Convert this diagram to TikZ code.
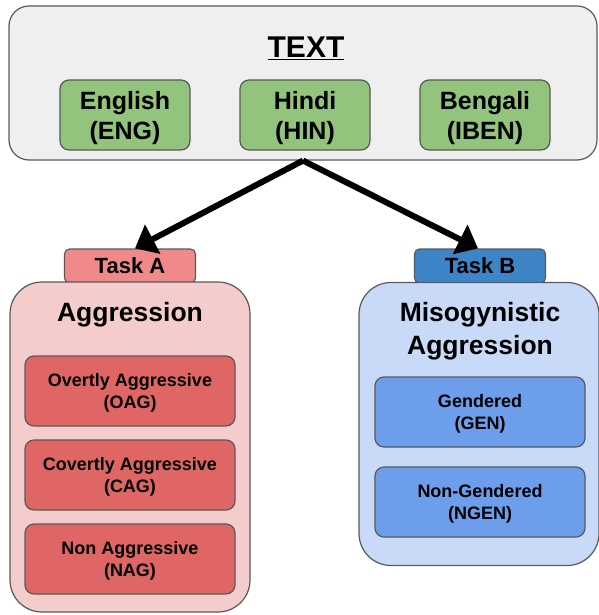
\documentclass[tikz,border=0pt]{standalone}
\usepackage{fontspec}
\setmainfont{Liberation Sans}
\usetikzlibrary{arrows.meta}

\definecolor{panelgray}{HTML}{EFEFEF}
\definecolor{langgreen}{HTML}{93C47D}
\definecolor{tabred}{HTML}{F08A8A}
\definecolor{boxred}{HTML}{F4CCCC}
\definecolor{itemred}{HTML}{E06666}
\definecolor{tabblue}{HTML}{3D85C6}
\definecolor{boxblue}{HTML}{C9DAF8}
\definecolor{itemblue}{HTML}{6D9EEB}
\definecolor{edgegray}{HTML}{595959}

% last line without its depth, so the text sits a little lower
\newcommand{\dropln}[1]{\raisebox{0pt}[\height][-2pt]{#1}}

\begin{document}
\begin{tikzpicture}[x=1pt, y=-1pt,
  every node/.style={draw=edgegray, line width=1.2pt, inner sep=0pt,
    align=center, font=\bfseries},
  lang/.style={fill=langgreen, rounded corners=9pt, minimum width=130pt,
    minimum height=70pt, font=\bfseries\fontsize{25}{30}\selectfont},
  tab/.style={rounded corners=5pt, minimum width=131pt, minimum height=34pt,
    font=\bfseries\fontsize{22}{24}\selectfont},
  panel/.style={rounded corners=32pt, minimum width=240pt},
  item/.style={rounded corners=9pt, minimum width=210pt, minimum height=70pt,
    font=\bfseries\fontsize{18}{22}\selectfont},
  >={Triangle[length=20pt, width=32pt]}]
  \useasboundingbox (0,0) rectangle (598,615);

  % text panel
  \node[fill=panelgray, rounded corners=20pt, minimum width=588pt,
    minimum height=154pt] (text) at (303,83) {};
  \node[draw=none, font=\bfseries\fontsize{30}{32}\selectfont] (title)
    at (306,48) {\underline{TEXT}};
  \node[lang] (eng) at (125,115) {English\\\dropln{(ENG)}};
  \node[lang] (hin) at (305,115) {Hindi\\\dropln{(HIN)}};
  \node[lang] (iben) at (485,115) {Bengali\\\dropln{(IBEN)}};

  % task A
  \node[tab, fill=tabred] (taska) at (130,266) {Task A};
  \node[panel, fill=boxred, minimum height=330pt] (aggr) at (130,447) {};
  \node[draw=none, font=\bfseries\fontsize{26.5}{30}\selectfont] (aggrtitle)
    at (130,315) {Aggression};
  \node[item, fill=itemred] (oag) at (130,391) {Overtly Aggressive\\\dropln{(OAG)}};
  \node[item, fill=itemred] (cag) at (130,475) {Covertly Aggressive\\\dropln{(CAG)}};
  \node[item, fill=itemred] (nag) at (130,559) {Non Aggressive\\\dropln{(NAG)}};

  % task B
  \node[tab, fill=tabblue] (taskb) at (480,266) {Task B};
  \node[panel, fill=boxblue, minimum height=283pt] (miso) at (479,424) {};
  \node[draw=none, font=\bfseries\fontsize{26.5}{33}\selectfont] (misotitle)
    at (480,331) {Misogynistic\\Aggression};
  \node[item, fill=itemblue] (gen) at (480,412) {Gendered\\\dropln{(GEN)}};
  \node[item, fill=itemblue] (ngen) at (480,502) {Non-Gendered\\\dropln{(NGEN)}};

  \draw[->, line width=6pt] (text.south) -- ([xshift=5pt]taska.north);
  \draw[->, line width=6pt] (text.south) -- ([xshift=-2pt]taskb.north);
\end{tikzpicture}
\end{document}
